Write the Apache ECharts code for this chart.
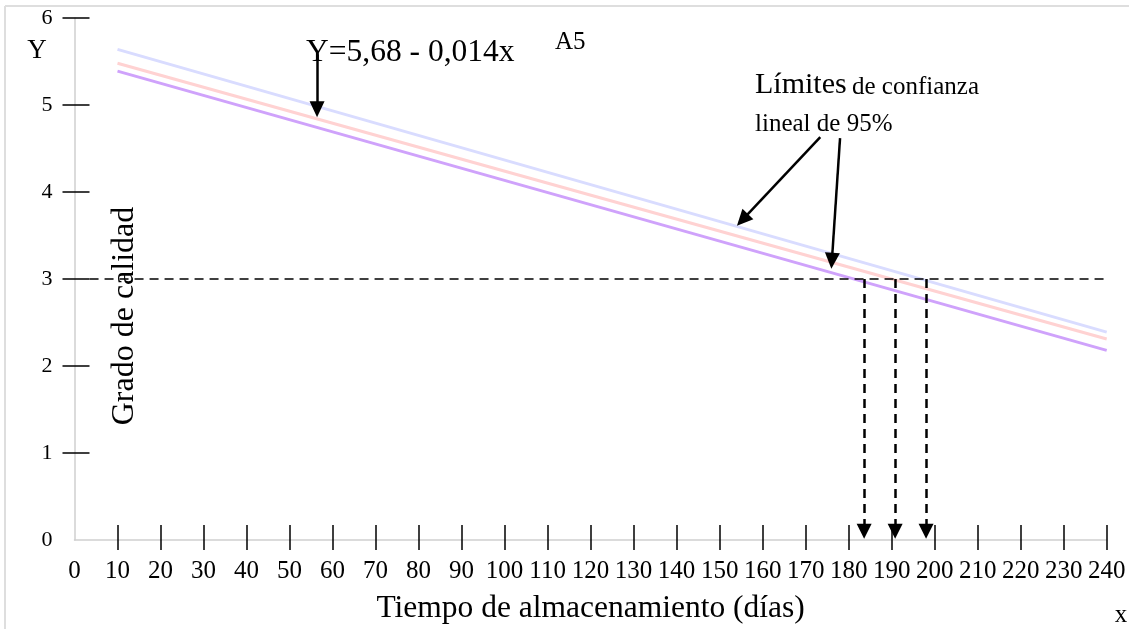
<!DOCTYPE html>
<html>
<head>
<meta charset="utf-8">
<title>Grado de calidad vs tiempo de almacenamiento</title>
<script src="https://cdn.jsdelivr.net/npm/echarts@6/dist/echarts.min.js"></script>
<style>
  html, body { margin: 0; padding: 0; background: #fff; }
  #chart { width: 1129px; height: 629px; }
</style>
</head>
<body>
<div id="chart"></div>
<script>
// Tick positions on both axes
const xTickValues = [10, 20, 30, 40, 50, 60, 70, 80, 90, 100, 110, 120, 130, 140, 150, 160, 170, 180, 190, 200, 210, 220, 230, 240];
const yTickValues = [1, 2, 3, 4, 5, 6];

// Regression line and its 95% confidence limits (start and end points)
const upperLimit = [[10, 5.64], [240, 2.39]];
const fittedLine = [[10, 5.48], [240, 2.31]];
const lowerLimit = [[10, 5.39], [240, 2.18]];

// Minimum acceptable quality grade and the days where each line crosses it
const thresholdGrade = 3;
const crossDays = [183.6, 190.8, 198];

// Pointer arrows for the annotations: [from, to] in data units
const equationPointer = [[56.4, 5.58], [56.4, 4.95]];
const limitPointers = [
  [[173.4, 4.63], [155.3, 3.68]],
  [[178.0, 4.62], [176.1, 3.21]]
];

const SERIF = '"Liberation Serif", "Times New Roman", serif';

const chart = echarts.init(document.getElementById('chart'), null, { renderer: 'canvas' });

function tickAxis(side, inside, len, values, withLabels) {
  return {
    type: 'value',
    min: 0,
    max: side === 'x' ? 240 : 6,
    interval: side === 'x' ? 10 : 1,
    position: side === 'x' ? 'bottom' : 'left',
    axisLine: { show: withLabels, lineStyle: { color: '#cfcfcf', width: 1.5 } },
    axisTick: {
      show: true, inside: inside, length: len, customValues: values,
      lineStyle: { color: '#000', width: 1.5 }
    },
    axisLabel: withLabels ? {
      show: true, color: '#000', fontFamily: SERIF,
      fontSize: side === 'x' ? 25 : 22, margin: side === 'x' ? 19 : 22
    } : { show: false },
    splitLine: { show: false }
  };
}

const xMain = tickAxis('x', true, 15, xTickValues, true);
xMain.name = 'Tiempo de almacenamiento (días)';
xMain.nameLocation = 'middle';
xMain.nameGap = 53;
xMain.nameTextStyle = { fontFamily: SERIF, fontSize: 31.5, color: '#000' };

const yMain = tickAxis('y', true, 15, yTickValues, true);

const arrowLine = (pts) => [{ coord: pts[0] }, { coord: pts[1] }];

const option = {
  animation: false,
  backgroundColor: '#fff',
  grid: { left: 74.5, right: 22.3, top: 18, bottom: 89, containLabel: false, outerBoundsMode: 'none' },
  xAxis: [xMain, tickAxis('x', false, 10, xTickValues, false)],
  yAxis: [yMain, tickAxis('y', false, 12, yTickValues, false)],
  series: [
    {
      name: 'Límite superior', type: 'line', data: upperLimit, showSymbol: false, silent: true,
      lineStyle: { color: '#d9dcff', width: 3 }
    },
    {
      name: 'Recta ajustada', type: 'line', data: fittedLine, showSymbol: false, silent: true,
      lineStyle: { color: '#ffd2d2', width: 3 }
    },
    {
      name: 'Límite inferior', type: 'line', data: lowerLimit, showSymbol: false, silent: true,
      lineStyle: { color: '#cfa2fb', width: 3 }
    },
    {
      // threshold grade line
      type: 'line', data: [], silent: true,
      markLine: {
        silent: true, symbol: 'none', label: { show: false },
        lineStyle: { color: '#000', width: 1.5, type: [9, 6] },
        data: [[{ coord: [3.5, thresholdGrade] }, { coord: [240, thresholdGrade] }]]
      }
    },
    {
      // shelf-life projections down to the time axis
      type: 'line', data: [], silent: true,
      markLine: {
        silent: true, symbol: ['none', 'triangle'], symbolSize: [15, 15], label: { show: false },
        lineStyle: { color: '#000', width: 2.5, type: [9, 6] },
        data: crossDays.map(d => [{ coord: [d, thresholdGrade] }, { coord: [d, 0.1] }])
      }
    },
    {
      // annotation pointers
      type: 'line', data: [], silent: true,
      markLine: {
        silent: true, symbol: ['none', 'triangle'], symbolSize: [15, 16], label: { show: false },
        lineStyle: { color: '#000', width: 2.5, type: 'solid' },
        data: [arrowLine(equationPointer)].concat(limitPointers.map(arrowLine))
      }
    }
  ],
  graphic: [
    { type: 'line', shape: { x1: 5, y1: 6, x2: 1129, y2: 6 }, style: { stroke: '#dedede', lineWidth: 2 }, silent: true },
    { type: 'line', shape: { x1: 5, y1: 6, x2: 5, y2: 629 }, style: { stroke: '#dedede', lineWidth: 2 }, silent: true },
    {
      type: 'text', x: 125, y: 316, rotation: Math.PI / 2,
      style: { text: 'Grado de calidad', font: '32px ' + SERIF, fill: '#000', textAlign: 'center', textVerticalAlign: 'middle' }
    },
    { type: 'text', style: { text: 'Y', x: 37, y: 51, font: '27px ' + SERIF, fill: '#000', textAlign: 'center', textVerticalAlign: 'middle' } },
    { type: 'text', style: { text: 'x', x: 1121, y: 615, font: '25px ' + SERIF, fill: '#000', textAlign: 'center', textVerticalAlign: 'middle' } },
    { type: 'text', style: { text: 'Y=5,68 - 0,014x', x: 306, y: 53, font: '31.5px ' + SERIF, fill: '#000', textVerticalAlign: 'middle' } },
    { type: 'text', style: { text: 'A5', x: 555, y: 42, font: '25px ' + SERIF, fill: '#000', textVerticalAlign: 'middle' } },
    { type: 'text', style: { text: 'Límites', x: 755, y: 85, font: '30px ' + SERIF, fill: '#000', textVerticalAlign: 'middle' } },
    { type: 'text', style: { text: 'de confianza', x: 852, y: 87, font: '25px ' + SERIF, fill: '#000', textVerticalAlign: 'middle' } },
    { type: 'text', style: { text: 'lineal de 95%', x: 755, y: 124, font: '25px ' + SERIF, fill: '#000', textVerticalAlign: 'middle' } }
  ]
};

chart.setOption(option);
</script>
</body>
</html>
